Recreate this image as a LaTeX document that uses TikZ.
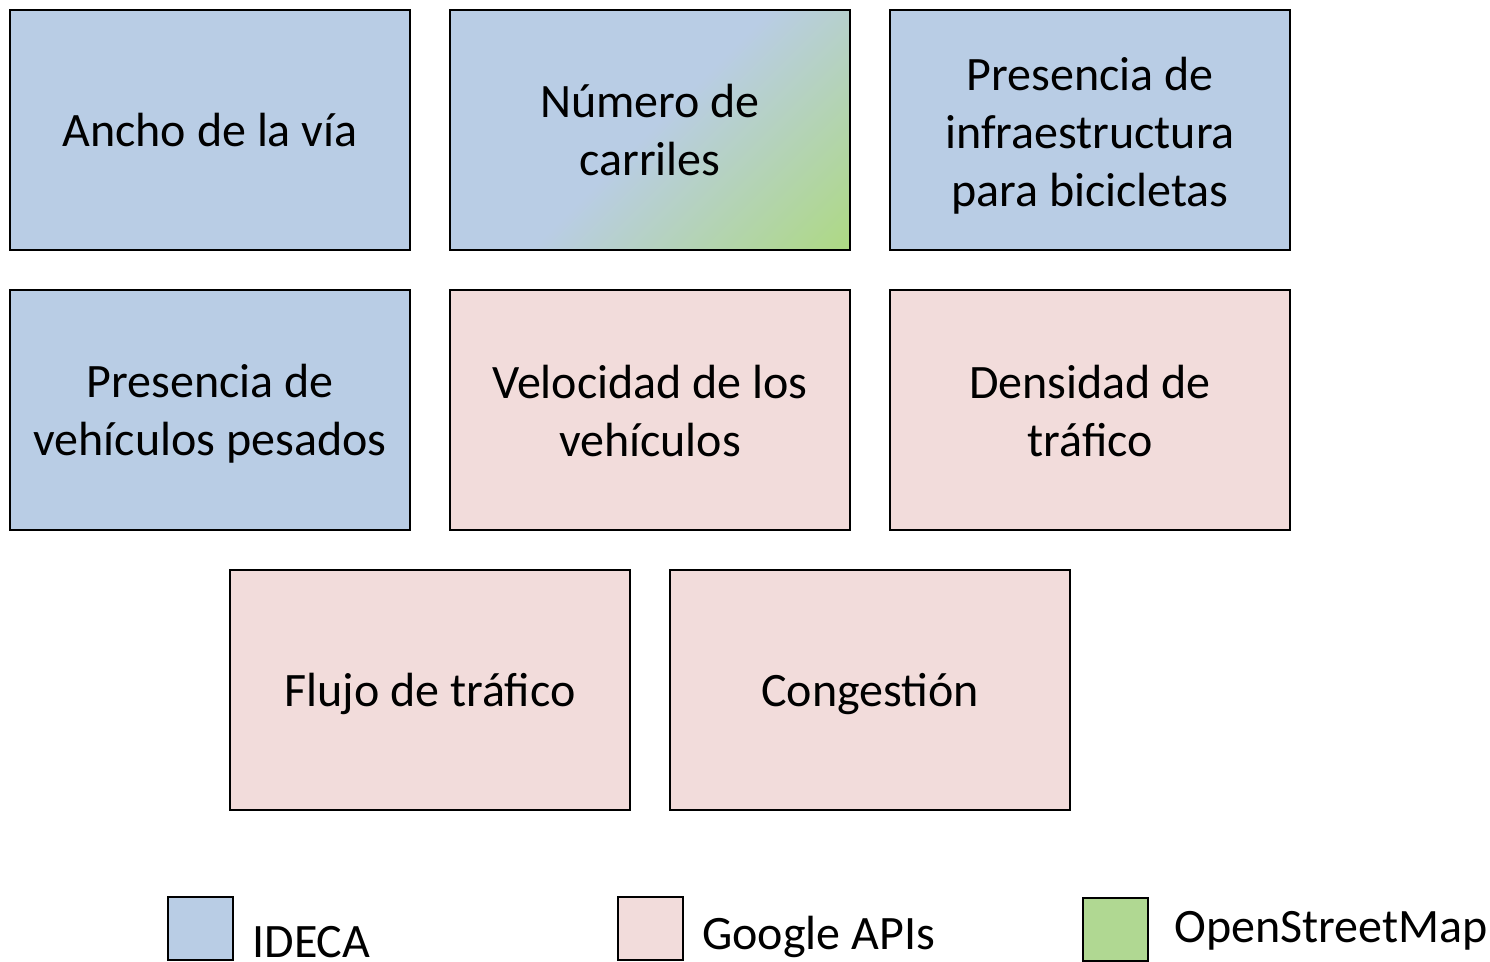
\documentclass[tikz,border=0pt]{standalone}
\usepackage{fontspec}
\setmainfont{Carlito}
\definecolor{ideca}{HTML}{B9CDE5}
\definecolor{goog}{HTML}{F2DCDB}
\definecolor{osm}{HTML}{B0D892}
\definecolor{osmdeep}{HTML}{ADDA7C}
\pgfdeclarehorizontalshading{mixsh}{100bp}{color(0bp)=(ideca); color(50bp)=(ideca); color(88bp)=(osmdeep); color(100bp)=(osmdeep)}
\begin{document}
\begin{tikzpicture}[x=0.5pt,y=-0.5pt,
  box/.style={draw=black,line width=1pt,minimum width=200pt,minimum height=120pt,inner sep=0pt},
  bluebox/.style={box,fill=ideca},
  pinkbox/.style={box,fill=goog},
  txt/.style={inner sep=0pt,align=center,font=\fontsize{24}{29}\selectfont},
  leg/.style={draw=black,line width=1pt,minimum width=32.5pt,minimum height=31.5pt,inner sep=0pt},
  legtext/.style={anchor=west,inner sep=0pt,font=\fontsize{24}{29}\selectfont}]
\useasboundingbox (0,0) rectangle (1490,962);
\node[bluebox] (a) at (210,130) {};
\node[box,shading=mixsh,shading angle=-45] (b) at (650,130) {};
\node[bluebox] (c) at (1090,130) {};
\node[bluebox] (d) at (210,410) {};
\node[pinkbox] (e) at (650,410) {};
\node[pinkbox] (f) at (1090,410) {};
\node[pinkbox] (g) at (430,690) {};
\node[pinkbox] (h) at (870,690) {};
\node[txt] (ta) at (a.center) {Ancho de la vía};
\node[txt] (tb) at (b.center) {Número de\\carriles};
\node[txt,yshift=-3pt] (tc) at (c.center) {Presencia de\\infraestructura\\para bicicletas};
\node[txt,yshift=-2pt] (td) at (d.center) {Presencia de\\vehículos pesados};
\node[txt,yshift=-0.5pt] (te) at (e.center) {Velocidad de los\\vehículos};
\node[txt,yshift=-0.5pt] (tf) at (f.center) {Densidad de\\tráfico};
\node[txt,yshift=-2pt] (tg) at (g.center) {Flujo de tráfico};
\node[txt,yshift=-2pt] (th) at (h.center) {Congestión};
\node[leg,fill=ideca] (l1) at (200.5,928.5) {};
\node[leg,fill=goog] (l2) at (650.5,928.5) {};
\node[leg,fill=osm] (l3) at (1115.5,929) {};
\node[legtext] (t1) at (252,942) {IDECA};
\node[legtext] (t2) at (702,937) {Google APIs};
\node[legtext] (t3) at (1174,931) {OpenStreetMap};
\end{tikzpicture}
\end{document}
